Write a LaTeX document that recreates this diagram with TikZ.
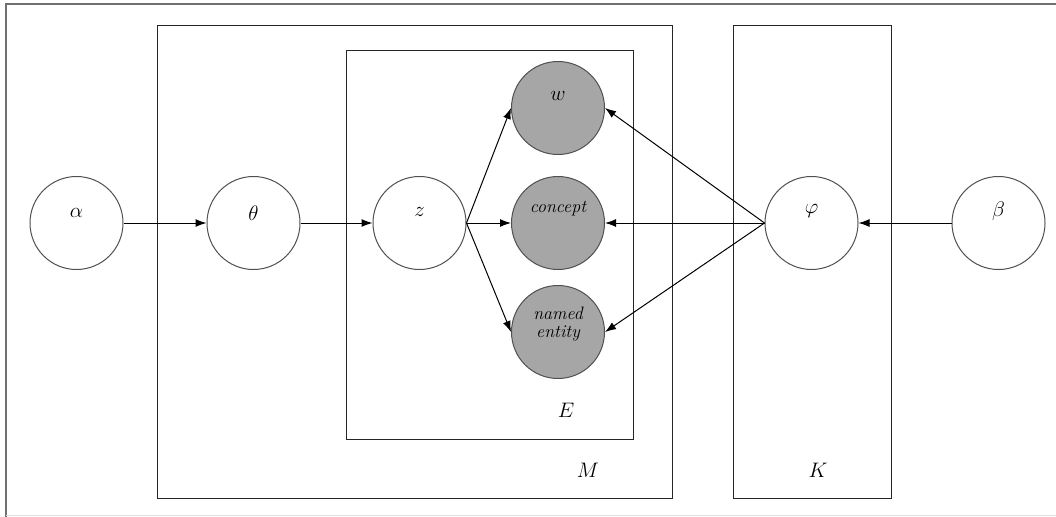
\documentclass[tikz,border=0pt]{standalone}
\usepackage{fix-cm}
\usetikzlibrary{arrows.meta}
\definecolor{nodegray}{HTML}{A6A6A6}
\definecolor{ringgray}{HTML}{505050}
\definecolor{framegray}{HTML}{707070}
\tikzset{
  var/.style={circle, draw=ringgray, line width=1pt, minimum size=93pt, inner sep=0pt, fill=white},
  obs/.style={var, fill=nodegray},
  lab/.style={font=\fontsize{21}{23}\selectfont},
  wlab/.style={font=\fontsize{18}{19}\selectfont\itshape},
  plate/.style={draw=black!85, line width=1pt},
  edge/.style={line width=1pt, -{Latex[length=11pt,width=8pt]}},
}
\begin{document}
\begin{tikzpicture}[x=1pt,y=-1pt]
\useasboundingbox (0,0) rectangle (1056,516);
% outer frame
\draw[framegray, line width=1.5pt] (6,520) -- (6,4) -- (1060,4);
\draw[black!12, line width=1pt] (6,515) -- (1060,515);
% plates
\draw[plate] (157.5,26) rectangle (672,498);
\draw[plate] (346,51) rectangle (633,439);
\draw[plate] (733,26) rectangle (891,498);
\node[lab] (Elab) at (566,410) {$E$};
\node[lab] (Mlab) at (588,470) {$M$};
\node[lab] (Klab) at (818,470) {$K$};
% nodes
\node[var, label={[lab,yshift=10pt]center:$\alpha$}] (alpha) at (76.5,223) {};
\node[var, label={[lab,yshift=10pt]center:$\theta$}] (theta) at (253.5,223) {};
\node[var, label={[lab,yshift=11pt]center:$z$}] (z) at (419.5,223) {};
\node[obs, label={[lab,yshift=12pt]center:$w$}] (w) at (558,108) {};
\node[obs, label={[wlab,yshift=14pt]center:concept}] (concept) at (558,223) {};
\node[obs, label={[wlab,yshift=8pt,align=center]center:named\\[-1pt]entity}] (ne) at (558,332) {};
\node[var, label={[lab,yshift=12pt]center:$\varphi$}] (phi) at (811.5,223) {};
\node[var, label={[lab,yshift=12pt]center:$\beta$}] (beta) at (998.5,223) {};
% edges
\draw[edge] (alpha.east) -- (theta.west);
\draw[edge] (theta.east) -- (z.west);
\draw[edge] (z.east) -- (w.west);
\draw[edge] (z.east) -- (concept.west);
\draw[edge] (z.east) -- (ne.west);
\draw[edge] (phi.west) -- (w.east);
\draw[edge] (phi.west) -- (concept.east);
\draw[edge] (phi.west) -- (ne.east);
\draw[edge] (beta.west) -- (phi.east);
\end{tikzpicture}
\end{document}
